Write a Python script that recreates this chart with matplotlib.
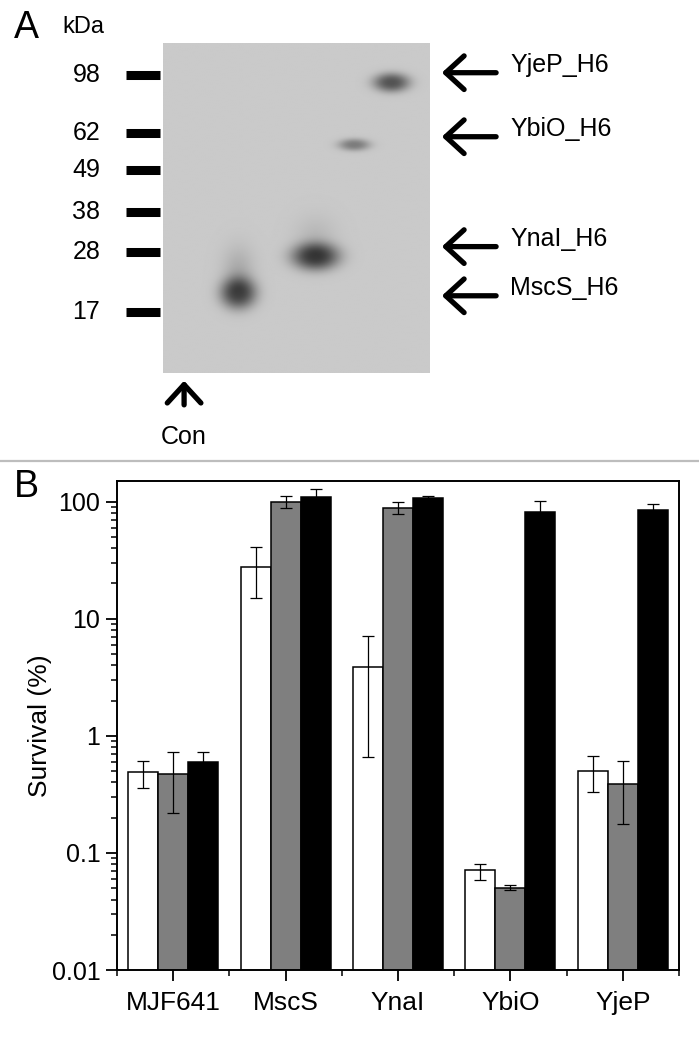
import numpy as np
import matplotlib
import matplotlib.pyplot as plt
from matplotlib.ticker import FixedLocator, LogLocator, NullFormatter

matplotlib.use("Agg")
plt.rcParams["font.family"] = ["Liberation Sans", "DejaVu Sans"]

# ---- panel A: western blot ----
ladder_kda = ["98", "62", "49", "38", "28", "17"]
ladder_mig = [9.6, 27.4, 38.4, 51.3, 63.3, 81.6]  # % of gel length

band_names = ["YjeP_H6", "YbiO_H6", "YnaI_H6", "MscS_H6"]
band_lane = [0.857, 0.717, 0.572, 0.282]
band_mig = [11.9, 30.8, 64.7, 75.8]
band_strength = [0.46, 0.30, 0.55, 0.50]
smear_strength = [0.0, 0.0, 0.07, 0.12]
arrow_mig = [9.0, 28.4, 61.7, 76.6]

control_lane = 0.079

# ---- panel B: survival ----
categories = ["MJF641", "MscS", "YnaI", "YbiO", "YjeP"]
white_vals = [0.49, 27.9, 3.84, 0.071, 0.50]
white_lo = [0.36, 15.0, 0.66, 0.059, 0.33]
white_hi = [0.61, 40.8, 7.05, 0.081, 0.67]
gray_vals = [0.47, 100, 89, 0.050, 0.39]
gray_lo = [0.22, 89, 78, 0.048, 0.175]
gray_hi = [0.73, 111, 100, 0.053, 0.61]
black_vals = [0.60, 110, 107, 81, 85]
black_lo = [0.47, 94, 102, 62, 75]
black_hi = [0.73, 128, 112, 101, 96]

W, H = 699, 1038
fig = plt.figure(figsize=(W / 100, H / 100), dpi=100)


def fig_rect(x0, y0, x1, y1):
    """pixel box (top-left origin) -> figure fraction rect"""
    return [x0 / W, 1 - y1 / H, (x1 - x0) / W, (y1 - y0) / H]


# gel
gel = fig.add_axes(fig_rect(163, 43, 430, 373))
gel.set_xlim(0, 1)
gel.set_ylim(100, 0)
gel.axis("off")

xx, yy = np.meshgrid(np.linspace(0, 1, 400), np.linspace(0, 100, 500))
dark = np.zeros_like(xx)
# band shapes (sigma x in lane units, sigma y in % of gel)
band_sx = [0.052, 0.045, 0.068, 0.052]
band_sy = [2.2, 1.4, 3.2, 3.7]
for lx, my, s, sm, sx, sy in zip(band_lane, band_mig, band_strength,
                                 smear_strength, band_sx, band_sy):
    r = ((xx - lx) / sx) ** 2 + ((yy - my) / sy) ** 2
    dark += s * np.exp(-0.5 * r ** 1.3)
    # faint smear above the band
    r2 = ((xx - lx) / (sx * 0.8)) ** 2 + ((yy - my + 1.8 * sy) / (1.4 * sy)) ** 2
    dark += sm * np.exp(-0.5 * r2)
img = np.clip(0.79 - dark, 0, 1)
gel.imshow(img, cmap="gray", vmin=0, vmax=1, extent=(0, 1, 100, 0),
           aspect="auto", interpolation="bilinear")

# ladder bars + labels
for kda, mig in zip(ladder_kda, ladder_mig):
    gel.plot([-0.139, -0.011], [mig, mig], color="black", lw=6.5,
             solid_capstyle="butt", clip_on=False)
    gel.text(-0.235, mig, kda, ha="right", va="center", fontsize=18,
             clip_on=False)
gel.text(-0.30, -4.8, "kDa", ha="center", va="center", fontsize=17)

# arrows + names on the right
for name, mig in zip(band_names, arrow_mig):
    gel.annotate("", xy=(1.034, mig), xytext=(1.258, mig),
                 arrowprops=dict(arrowstyle="->,head_length=0.6,head_width=0.55",
                                 lw=3.8, color="black", mutation_scale=22),
                 annotation_clip=False)
    gel.text(1.30, mig - 2.4, name, ha="left", va="center", fontsize=18)

# control lane arrow
gel.annotate("", xy=(control_lane, 101.5), xytext=(control_lane, 110.5),
             arrowprops=dict(arrowstyle="->,head_length=0.6,head_width=0.55",
                             lw=3.8, color="black", mutation_scale=22),
             annotation_clip=False)
gel.text(control_lane, 119.5, "Con", ha="center", va="center", fontsize=18)

fig.text(14 / W, 1 - 28 / H, "A", ha="left", va="center", fontsize=27)

# separator
fig.add_artist(plt.Line2D([0, 1], [1 - 461 / H, 1 - 461 / H],
                          color="#bdbdbd", lw=1.6, transform=fig.transFigure))

# survival bars
ax = fig.add_axes(fig_rect(117, 481, 679, 970))
ax.set_yscale("log")
x = np.arange(len(categories))
w = 0.8 / 3
series = [
    (white_vals, white_lo, white_hi, "white", -w),
    (gray_vals, gray_lo, gray_hi, "#7f7f7f", 0),
    (black_vals, black_lo, black_hi, "black", w),
]
for vals, lo, hi, col, off in series:
    vals = np.array(vals)
    ax.bar(x + off, vals, width=w, color=col, edgecolor="black", lw=1.1,
           zorder=2)
    yerr = [vals - np.array(lo), np.array(hi) - vals]
    ax.errorbar(x + off, vals, yerr=yerr, fmt="none", ecolor="black",
                elinewidth=0.9, capsize=4.5, capthick=0.9, zorder=3)

ax.set_xlim(-0.5, len(categories) - 0.5)
ax.set_ylim(0.01, 150)
ax.yaxis.set_major_locator(FixedLocator([0.01, 0.1, 1, 10, 100]))
ax.set_yticklabels(["0.01", "0.1", "1", "10", "100"])
ax.yaxis.set_minor_locator(LogLocator(base=10, subs=np.arange(2, 10)))
ax.yaxis.set_minor_formatter(NullFormatter())
ax.set_xticks(x, categories)
ax.set_xticks(np.arange(len(categories) + 1) - 0.5, minor=True)
ax.tick_params(axis="both", which="major", direction="out", length=8,
               width=1.3, labelsize=18, pad=4)
ax.tick_params(axis="x", which="major", labelsize=19, pad=7)
ax.tick_params(axis="both", which="minor", direction="out", length=4.5,
               width=1.1)
for sp in ax.spines.values():
    sp.set_linewidth(1.4)
ax.set_ylabel("Survival (%)", fontsize=19, labelpad=0)

fig.text(14 / W, 1 - 487 / H, "B", ha="left", va="center", fontsize=27)

fig.savefig("out.png", dpi=100)
plt.close(fig)
